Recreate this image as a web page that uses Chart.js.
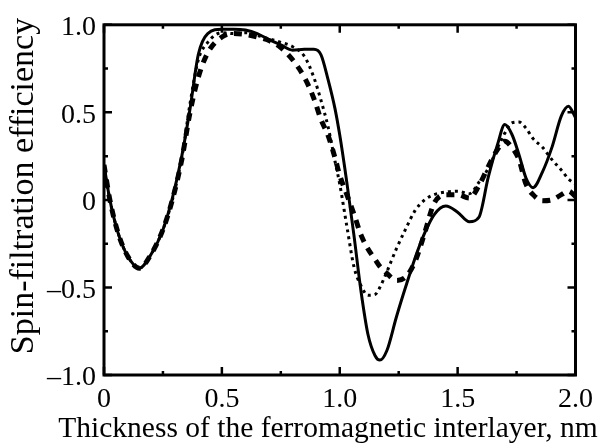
<!DOCTYPE html>
<html>
<head>
<meta charset="utf-8">
<script src="https://cdn.jsdelivr.net/npm/chart.js@4.4.1/dist/chart.umd.min.js"></script>
<style>
  html, body { margin: 0; padding: 0; background: #fff; }
  canvas { display: block; }
</style>
</head>
<body>
<canvas id="chart" width="601" height="445"></canvas>
<script>
// thickness of the interlayer, nm (shared x for all three curves)
const thickness = [0, 0.025, 0.06, 0.1, 0.15, 0.2, 0.25, 0.29, 0.33, 0.365, 0.4, 0.44, 0.5, 0.55, 0.6, 0.65, 0.7, 0.75, 0.8, 0.85,
  0.89, 0.92, 0.95, 0.98, 1.0, 1.03, 1.06, 1.09, 1.12, 1.15, 1.17, 1.2, 1.24, 1.28, 1.32, 1.36, 1.4, 1.45, 1.5, 1.55,
  1.59, 1.63, 1.67, 1.7, 1.73, 1.76, 1.79, 1.82, 1.86, 1.9, 1.94, 1.97, 2.0]

const solidEff = [0.2, 0.0, -0.19, -0.32, -0.39, -0.31, -0.17, 0.01, 0.25, 0.52, 0.83, 0.95, 0.975, 0.975, 0.97, 0.95, 0.915, 0.885, 0.855, 0.86,
  0.86, 0.83, 0.69, 0.52, 0.37, 0.1, -0.2, -0.52, -0.77, -0.89, -0.915, -0.86, -0.67, -0.495, -0.33, -0.19, -0.085, -0.035, -0.07, -0.125,
  -0.1, 0.13, 0.32, 0.43, 0.375, 0.26, 0.125, 0.07, 0.16, 0.3, 0.48, 0.535, 0.47]

const dashedEff = [0.2, 0.0, -0.19, -0.32, -0.39, -0.31, -0.17, 0.0, 0.23, 0.5, 0.7, 0.84, 0.93, 0.95, 0.945, 0.93, 0.91, 0.87, 0.8, 0.7,
  0.58, 0.46, 0.37, 0.24, 0.14, 0.03, -0.08, -0.2, -0.28, -0.34, -0.38, -0.42, -0.46, -0.44, -0.35, -0.19, -0.02, 0.03, 0.03, 0.01,
  0.08, 0.19, 0.29, 0.335, 0.3, 0.23, 0.09, 0.03, -0.005, 0.0, 0.03, 0.05, 0.02]

const dottedEff = [0.2, 0.0, -0.19, -0.32, -0.39, -0.31, -0.17, 0.0, 0.24, 0.55, 0.8, 0.9, 0.955, 0.95, 0.955, 0.94, 0.92, 0.9, 0.875, 0.82,
  0.7, 0.57, 0.42, 0.22, 0.09, -0.15, -0.38, -0.49, -0.545, -0.54, -0.5, -0.41, -0.28, -0.165, -0.06, 0.0, 0.03, 0.045, 0.05, 0.035,
  0.1, 0.18, 0.3, 0.38, 0.44, 0.445, 0.41, 0.35, 0.3, 0.23, 0.17, 0.12, 0.09]

const xTicks = [0, 0.5, 1.0, 1.5, 2.0]
const xMinor = [0.25, 0.75, 1.25, 1.75]
const yTicks = [-1, -0.5, 0, 0.5, 1]
const yMinor = [-0.75, -0.25, 0.25, 0.75]
const xTitle = 'Thickness of the ferromagnetic interlayer, nm'
const yTitle = 'Spin-filtration efficiency'

const FONT = "'Liberation Serif', 'Times New Roman', serif"
const TICK_SIZE = 28

const pts = (ys) => thickness.map((x, i) => ({ x, y: ys[i] }))
const fmtTick = (v) => Math.abs(v) < 1e-9 ? '0' : (v < 0 ? '\u2013' : '') + Math.abs(v).toFixed(1)

// box with inward ticks on all four sides
const framePlugin = {
  id: 'frame',
  afterDatasetsDraw(chart) {
    const { ctx, chartArea: a, scales: { x, y } } = chart
    ctx.save()
    ctx.strokeStyle = '#000'
    ctx.lineWidth = 3
    ctx.strokeRect(a.left, a.top, a.right - a.left, a.bottom - a.top)
    ctx.lineWidth = 2.5
    ctx.beginPath()
    xTicks.concat(xMinor).forEach(v => {
      const px = x.getPixelForValue(v)
      const len = xTicks.includes(v) ? 8 : 4
      ctx.moveTo(px, a.bottom); ctx.lineTo(px, a.bottom - len)
      ctx.moveTo(px, a.top); ctx.lineTo(px, a.top + len)
    })
    yTicks.concat(yMinor).forEach(v => {
      const py = y.getPixelForValue(v)
      const len = yTicks.includes(v) ? 8 : 4
      ctx.moveTo(a.left, py); ctx.lineTo(a.left + len, py)
      ctx.moveTo(a.right, py); ctx.lineTo(a.right - len, py)
    })
    ctx.stroke()
    ctx.restore()
  }
}

// axis titles placed as in the figure (x title runs past the plot area)
const titlePlugin = {
  id: 'axisTitles',
  afterDraw(chart) {
    const { ctx } = chart
    ctx.save()
    ctx.fillStyle = '#000'
    ctx.textAlign = 'center'
    ctx.textBaseline = 'alphabetic'
    ctx.font = `29.5px ${FONT}`
    ctx.fillText(xTitle, 328, 437)
    ctx.font = `34px ${FONT}`
    ctx.translate(33, 186)
    ctx.rotate(-Math.PI / 2)
    ctx.fillText(yTitle, 0, 0)
    ctx.restore()
  }
}

new Chart(document.getElementById('chart'), {
  type: 'line',
  data: {
    datasets: [
      { label: 'solid', data: pts(solidEff), borderColor: '#000', borderWidth: 3 },
      { label: 'dashed', data: pts(dashedEff), borderColor: '#000', borderWidth: 5, borderDash: [8, 7] },
      { label: 'dotted', data: pts(dottedEff), borderColor: '#000', borderWidth: 3, borderDash: [3, 4] }
    ]
  },
  options: {
    responsive: false,
    animation: false,
    events: [],
    layout: { padding: { top: 23, right: 24, left: 0, bottom: 0 } },
    elements: {
      point: { radius: 0 },
      line: { cubicInterpolationMode: 'monotone', fill: false }
    },
    plugins: { legend: { display: false }, tooltip: { enabled: false } },
    scales: {
      x: {
        type: 'linear', min: 0, max: 2,
        afterBuildTicks: s => { s.ticks = xTicks.map(v => ({ value: v })) },
        afterFit: s => { s.height = 70 },
        grid: { display: false, drawTicks: false },
        border: { display: false },
        ticks: { color: '#000', padding: 8, maxRotation: 0, font: { family: FONT, size: TICK_SIZE }, callback: fmtTick }
      },
      y: {
        type: 'linear', min: -1, max: 1,
        afterBuildTicks: s => { s.ticks = yTicks.map(v => ({ value: v })) },
        afterFit: s => { s.width = 104 },
        grid: { display: false, drawTicks: false },
        border: { display: false },
        ticks: { color: '#000', padding: 8, labelOffset: 3, font: { family: FONT, size: TICK_SIZE }, callback: fmtTick }
      }
    }
  },
  plugins: [framePlugin, titlePlugin]
})
</script>
</body>
</html>
